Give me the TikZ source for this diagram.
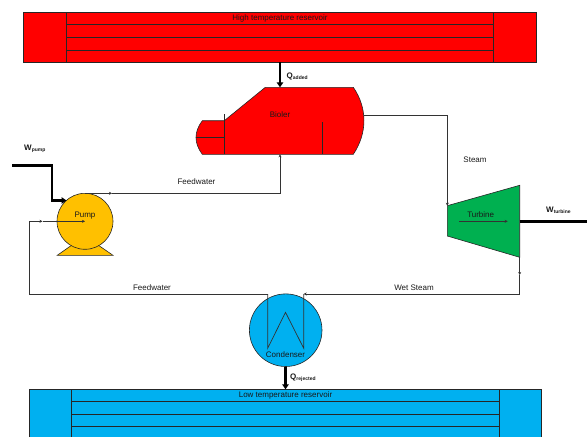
\documentclass[tikz,border=0pt]{standalone}
\usepackage{fontspec}
\setmainfont{Liberation Sans}
\usepackage{xcolor}
\definecolor{hotred}{RGB}{255,0,0}
\definecolor{coldblue}{RGB}{0,176,240}
\definecolor{pumporange}{RGB}{255,192,0}
\definecolor{turbgreen}{RGB}{0,176,80}
\usetikzlibrary{arrows.meta}
\tikzset{
	part/.style={draw=black!85, line width=0.6pt},
	flow/.style={draw=black!80, line width=0.7pt},
	flowtip/.style={flow, -{Stealth[length=3pt,width=3pt]}},
	power/.style={draw=black, line width=2.6pt},
	powertip/.style={power, -{Stealth[length=5pt,width=6.5pt,inset=0pt]}},
	lbl/.style={font=\fontsize{8}{9}\selectfont, inner sep=0pt, text=black!90},
	worklbl/.style={lbl, font=\fontsize{8}{9}\selectfont\bfseries},
}
\newcommand{\lowsub}[1]{\textsubscript{\fontsize{5}{6}\selectfont #1}}
\begin{document}
\begin{tikzpicture}[x=1pt, y=-1pt]
	\useasboundingbox (0,0) rectangle (587,437);

	% High temperature reservoir
	\filldraw[part, fill=hotred] (23.3,12.3) rectangle (536.7,62);
	\draw[part] (66.7,12.3) -- (66.7,62);
	\draw[part] (493.7,12.3) -- (493.7,62);
	\foreach \y in {24.7,37.3,50}
	\draw[part] (66.7,\y) -- (493.7,\y);
	\node[lbl] (hotlabel) at (280,18.3) {High temperature reservoir};

	% Low temperature reservoir (runs off the page)
	\fill[coldblue] (29.3,389.3) rectangle (541.7,437);
	\draw[part] (29.3,437) -- (29.3,389.3) -- (541.7,389.3) -- (541.7,437);
	\draw[part] (71.7,389.3) -- (71.7,437);
	\draw[part] (499.7,389.3) -- (499.7,437);
	\foreach \y in {401.3,414.3,426.3}
	\draw[part] (71.7,\y) -- (499.7,\y);
	\node[lbl] (coldlabel) at (285.5,395) {Low temperature reservoir};

	% Boiler
	\filldraw[part, fill=hotred] (265.3,87.3) -- (353.3,87.3)
		.. controls (367.5,108) and (367.5,133) .. (353.3,154.3)
		-- (202.3,154.3)
		.. controls (193.9,143) and (193.9,132) .. (202.3,120.7)
		-- (224.3,120.7) -- cycle;
	\draw[part] (224.3,114) -- (224.3,154.3);
	\draw[part] (196,137.7) -- (224.3,137.7);
	\draw[part] (322.3,122.3) -- (322.3,154.3);
	\node[lbl] (boiler) at (280,115) {Bioler};

	% Turbine
	\filldraw[part, fill=turbgreen] (447.3,205.7) -- (519.7,185.3) -- (519.7,257.3) -- (447.3,236) -- cycle;
	\node[lbl] (turbine) at (480.7,215) {Turbine};

	% Pump
	\filldraw[part, fill=pumporange] (57.3,255.3) -- (72,245) -- (98,245) -- (113,255.3) -- cycle;
	\node[part, circle, fill=pumporange, minimum size=56pt, inner sep=0pt] (pump) at (85,221.3) {};
	\node[lbl] (pumplabel) at (85,215.5) {Pump};

	% Condenser
	\node[part, circle, fill=coldblue, minimum size=72.6pt, inner sep=0pt] (condenser) at (285.7,330.2) {};
	\node[lbl] (condlabel) at (285.5,355) {Condenser};

	% Points on the cycle
	\coordinate (boilerout) at (363.8,115.5);
	\coordinate (steamcorner) at (447.3,115.5);
	\coordinate (turbin) at (447.3,205.7);
	\coordinate (turbarrowa) at (459,221.3);
	\coordinate (turbarrowb) at (507.7,221.3);
	\coordinate (turbout) at (519.7,257.3);
	\coordinate (wetmid) at (519.7,275);
	\coordinate (wetcorner) at (519.7,294);
	\coordinate (condin) at (303.7,294);
	\coordinate (condout) at (267.7,294);
	\coordinate (condlowl) at (267.7,348.3);
	\coordinate (condtop) at (285.5,312.3);
	\coordinate (condlowr) at (303.7,348.3);
	\coordinate (feedcorner) at (29.3,294);
	\coordinate (feedup) at (29.3,221.3);
	\coordinate (feedmid) at (42.5,221.3);
	\coordinate (pumpout) at (85,193.3);
	\coordinate (pumpmid) at (112,193.3);
	\coordinate (boilercorner) at (280,193.3);
	\coordinate (boilerin) at (280,154.3);
	\coordinate (qaddeda) at (280,62);
	\coordinate (qaddedb) at (280,87.3);
	\coordinate (qrejecta) at (285.5,366.5);
	\coordinate (qrejectb) at (285.5,389.3);
	\coordinate (wpumpa) at (12,165.3);
	\coordinate (wpumpb) at (52,165.3);
	\coordinate (wpumpc) at (52,200.5);
	\coordinate (wpumpd) at (66.5,200.5);
	\coordinate (wturba) at (519.7,221.3);
	\coordinate (wturbb) at (587,221.3);

	% Draw cycle lines
	\draw[flowtip] (boilerout) -- (steamcorner) -- (turbin);
	\draw[flowtip] (turbarrowa) -- (turbarrowb);
	\draw[flowtip] (turbout) -- (wetmid);
	\draw[flowtip] (wetmid) -- (wetcorner) -- (condin);
	\draw[flow] (condin) -- (condlowr) -- (condtop) -- (condlowl) -- (condout);
	\draw[flow] (condout) -- (feedcorner) -- (feedup);
	\draw[flowtip] (feedup) -- (feedmid);
	\draw[flowtip] (feedmid) -- (pump.center);
	\draw[flowtip] (pumpout) -- (pumpmid);
	\draw[flowtip] (pumpmid) -- (boilercorner) -- (boilerin);

	% Draw heat and work
	\draw[powertip] (qaddeda) -- (qaddedb);
	\draw[powertip] (qrejecta) -- (qrejectb);
	\draw[powertip] (wpumpa) -- (wpumpb) -- (wpumpc) -- (wpumpd);
	\draw[power] (wturba) -- (wturbb);

	% Labels on lines
	\node[lbl] (feedtop) at (196.5,182) {Feedwater};
	\node[lbl] (feedbot) at (152,288) {Feedwater};
	\node[lbl] (wetlabel) at (414,288) {Wet Steam};
	\node[lbl] (steamlabel) at (475,160) {Steam};
	\node[worklbl, anchor=west] (qadded) at (286.5,76.5) {Q\lowsub{added}};
	\node[worklbl, anchor=west] (qreject) at (290,378) {Q\lowsub{rejected}};
	\node[worklbl, anchor=west] (wpump) at (24,149) {W\lowsub{pump}};
	\node[worklbl, anchor=west] (wturb) at (546,210) {W\lowsub{turbine}};
\end{tikzpicture}
\end{document}
